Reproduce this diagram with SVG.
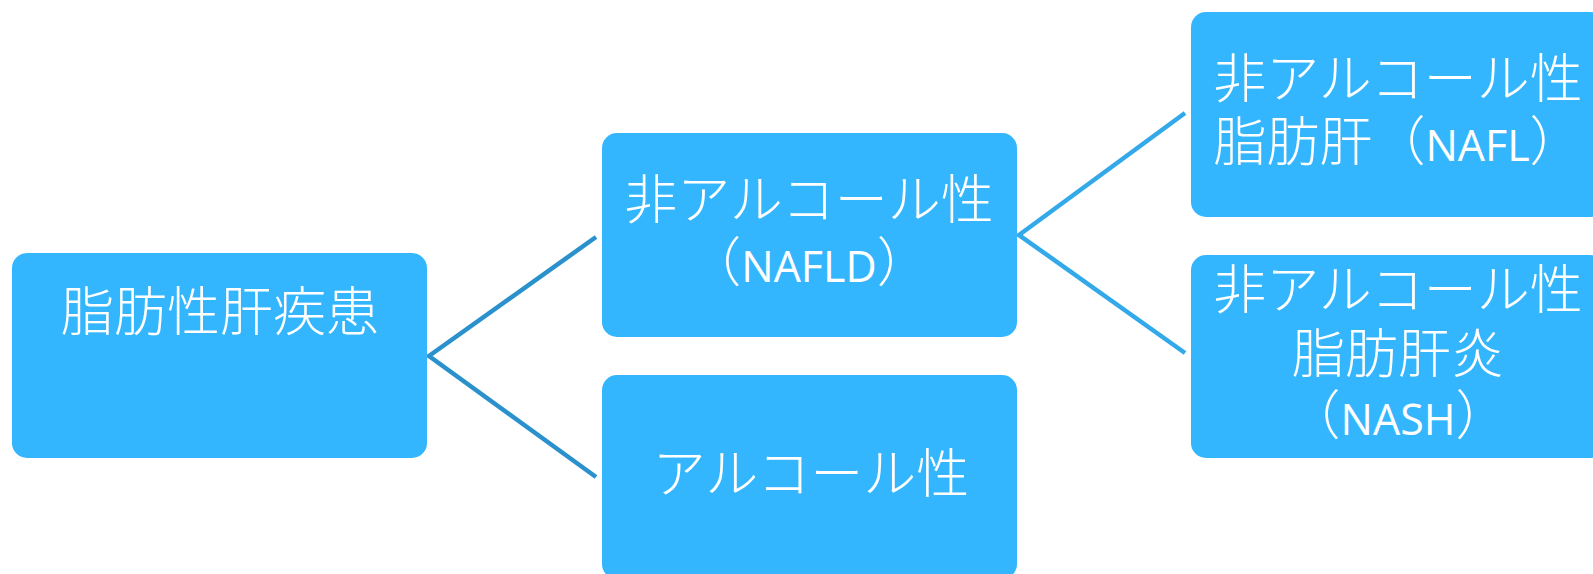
<svg xmlns="http://www.w3.org/2000/svg" width="1593" height="574" viewBox="0 0 1593 574">
<style>
.box{fill:#34B6FE;}
.t{fill:#FFFFFF;font-family:"Noto Sans CJK JP","Noto Sans CJK SC",sans-serif;font-size:53px;font-weight:300;text-anchor:middle;}
.l{font-family:"Open Sans","Noto Sans",sans-serif;font-size:43px;font-weight:400;}
.c1{fill:none;stroke:#2B91CD;stroke-width:4.5;}
.c2{fill:none;stroke:#33A9EA;stroke-width:4.5;}
</style>
<rect width="1593" height="574" fill="#FFFFFF"/>
<g id="connectors">
<polyline class="c1" points="596,237 429,356 596,477"/>
<polyline class="c2" points="1185,113 1019,235 1185,353"/>
</g>
<g id="node-root">
<rect class="box" x="12" y="253" width="415" height="205" rx="15"/>
<text class="t" x="220" y="331">脂肪性肝疾患</text>
</g>
<g id="node-nafld">
<rect class="box" x="602" y="133" width="415" height="204" rx="15"/>
<text class="t" x="809" y="219">非アルコール性</text>
<text class="t" x="809" y="282">（<tspan class="l">NAFLD</tspan>）</text>
</g>
<g id="node-alcohol">
<rect class="box" x="602" y="375" width="415" height="204" rx="15"/>
<text class="t" x="811" y="493">アルコール性</text>
</g>
<g id="node-nafl">
<rect class="box" x="1191" y="12" width="414" height="205" rx="15"/>
<text class="t" x="1398" y="98">非アルコール性</text>
<text class="t" x="1398" y="161">脂肪肝（<tspan class="l">NAFL</tspan>）</text>
</g>
<g id="node-nash">
<rect class="box" x="1191" y="255" width="414" height="203" rx="15"/>
<text class="t" x="1398" y="309">非アルコール性</text>
<text class="t" x="1398" y="373">脂肪肝炎</text>
<text class="t" x="1398" y="435">（<tspan class="l">NASH</tspan>）</text>
</g>
</svg>
